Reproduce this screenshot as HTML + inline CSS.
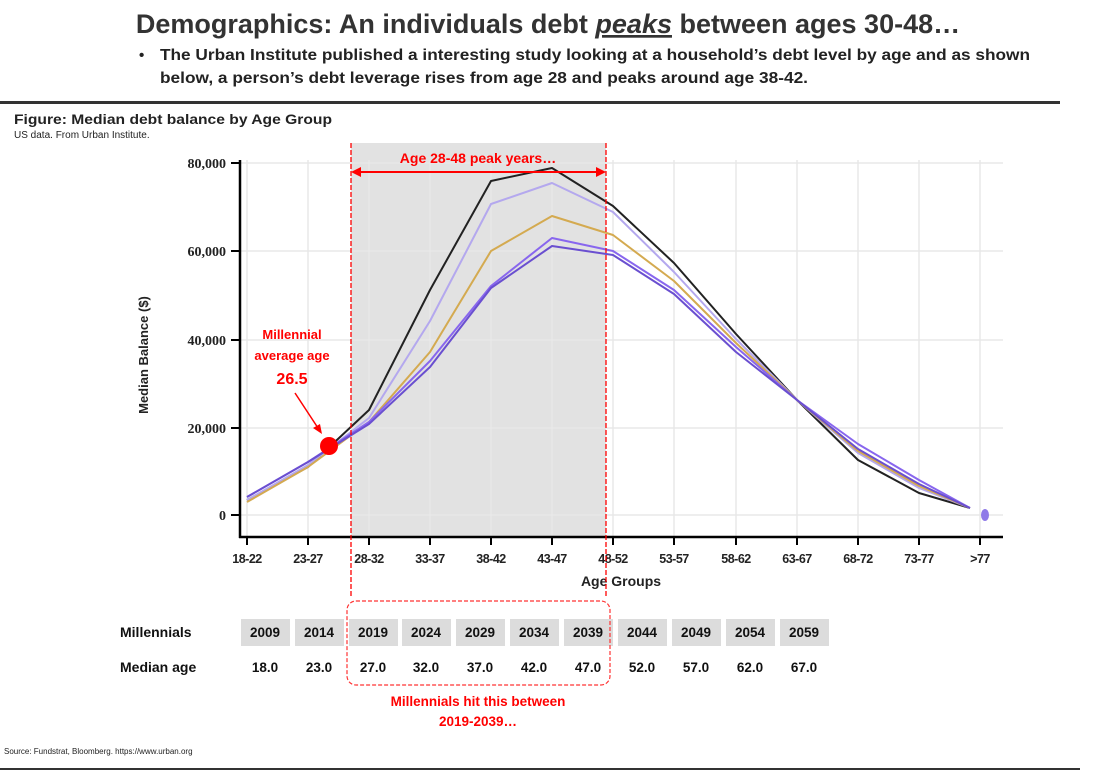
<!DOCTYPE html>
<html><head><meta charset="utf-8"><style>
html,body{margin:0;padding:0;background:#fff;}
svg{display:block;font-family:"Liberation Sans",Arial,sans-serif;}
</style></head><body>
<svg width="1096" height="772" viewBox="0 0 1096 772" xmlns="http://www.w3.org/2000/svg">
<rect width="1096" height="772" fill="#fff"/>
<text x="548" y="33" text-anchor="middle" font-size="27" font-weight="bold" fill="#333">Demographics: An individuals debt <tspan font-style="italic" text-decoration="underline">peaks</tspan> between ages 30-48…</text>
<text x="139" y="60" font-size="15" font-weight="bold" fill="#222">•</text>
<text x="160" y="60" font-size="15.5" font-weight="bold" fill="#222" textLength="870" lengthAdjust="spacingAndGlyphs">The Urban Institute published a interesting study looking at a household’s debt level by age and as shown</text>
<text x="160" y="83" font-size="15.5" font-weight="bold" fill="#222" textLength="648" lengthAdjust="spacingAndGlyphs">below, a person’s debt leverage rises from age 28 and peaks around age 38-42.</text>
<rect x="0" y="101" width="1060" height="3" fill="#333"/>
<text x="14" y="124" font-size="14" font-weight="bold" fill="#222" textLength="318" lengthAdjust="spacingAndGlyphs">Figure: Median debt balance by Age Group</text>
<text x="14" y="138" font-size="10" fill="#222">US data.  From Urban Institute.</text>
<rect x="351" y="143" width="255" height="394" fill="#e2e2e2"/>
<g stroke="#e8e8e8" stroke-width="1.5">
<line x1="240" y1="163" x2="1003" y2="163"/><line x1="240" y1="251" x2="1003" y2="251"/>
<line x1="240" y1="340" x2="1003" y2="340"/><line x1="240" y1="428" x2="1003" y2="428"/>
<line x1="240" y1="515" x2="1003" y2="515"/>
<line x1="247" y1="160" x2="247" y2="537"/><line x1="308" y1="160" x2="308" y2="537"/><line x1="369" y1="160" x2="369" y2="537"/><line x1="430" y1="160" x2="430" y2="537"/><line x1="491" y1="160" x2="491" y2="537"/><line x1="552" y1="160" x2="552" y2="537"/><line x1="613" y1="160" x2="613" y2="537"/><line x1="674" y1="160" x2="674" y2="537"/><line x1="736" y1="160" x2="736" y2="537"/><line x1="797" y1="160" x2="797" y2="537"/><line x1="858" y1="160" x2="858" y2="537"/><line x1="919" y1="160" x2="919" y2="537"/><line x1="980" y1="160" x2="980" y2="537"/>
</g>
<g stroke="#000" stroke-width="2.5">
<line x1="240" y1="160" x2="240" y2="538"/><line x1="239" y1="537" x2="1003" y2="537"/>
</g>
<g stroke="#000" stroke-width="2">
<line x1="231" y1="163" x2="240" y2="163"/><line x1="231" y1="251" x2="240" y2="251"/><line x1="231" y1="340" x2="240" y2="340"/><line x1="231" y1="428" x2="240" y2="428"/><line x1="231" y1="515" x2="240" y2="515"/>
<line x1="247" y1="537" x2="247" y2="545"/><line x1="308" y1="537" x2="308" y2="545"/><line x1="369" y1="537" x2="369" y2="545"/><line x1="430" y1="537" x2="430" y2="545"/><line x1="491" y1="537" x2="491" y2="545"/><line x1="552" y1="537" x2="552" y2="545"/><line x1="613" y1="537" x2="613" y2="545"/><line x1="674" y1="537" x2="674" y2="545"/><line x1="736" y1="537" x2="736" y2="545"/><line x1="797" y1="537" x2="797" y2="545"/><line x1="858" y1="537" x2="858" y2="545"/><line x1="919" y1="537" x2="919" y2="545"/><line x1="980" y1="537" x2="980" y2="545"/>
</g>
<g font-family="Liberation Serif,serif" font-weight="bold" font-size="14" fill="#222" text-anchor="end">
<text x="226" y="168">80,000</text><text x="226" y="256">60,000</text><text x="226" y="345">40,000</text><text x="226" y="433">20,000</text><text x="226" y="520">0</text>
</g>
<g font-weight="bold" font-size="12.5" fill="#222" text-anchor="middle" letter-spacing="-0.5">
<text x="247" y="563">18-22</text><text x="308" y="563">23-27</text><text x="369" y="563">28-32</text><text x="430" y="563">33-37</text><text x="491" y="563">38-42</text><text x="552" y="563">43-47</text><text x="613" y="563">48-52</text><text x="674" y="563">53-57</text><text x="736" y="563">58-62</text><text x="797" y="563">63-67</text><text x="858" y="563">68-72</text><text x="919" y="563">73-77</text><text x="980" y="563">&gt;77</text>
</g>
<text x="621" y="586" text-anchor="middle" font-weight="bold" font-size="14" fill="#222">Age Groups</text>
<text transform="translate(148,355) rotate(-90)" text-anchor="middle" font-weight="bold" font-size="13" fill="#222">Median Balance ($)</text>
<g fill="none" stroke-width="2" stroke-linejoin="round">
<polyline stroke="#222" points="247,500 308,467 369,410 430,290 491,181 552,168 613,206 674,263 736,334 797,400 858,460 919,493 970,508"/>
<polyline stroke="#b4a8ee" points="247,500 308,465 369,418 430,321 491,204 552,183 613,212 674,272 736,339 797,400 858,453 919,488 970,508"/>
<polyline stroke="#d4aa50" points="247,502 308,467 369,422 430,352 491,251 552,216 613,235 674,281 736,343 797,400 858,451 919,486 970,508"/>
<polyline stroke="#8866ee" points="247,497 308,462 369,422 430,361 491,286 552,238 613,251 674,290 736,347 797,400 858,444 919,480 970,508"/>
<polyline stroke="#6a4fd0" points="247,497 308,462 369,424 430,367 491,288 552,246 613,255 674,294 736,352 797,400 858,449 919,484 970,508"/>
</g>
<ellipse cx="985" cy="515" rx="4" ry="6" fill="#8f7ae8"/>
<g stroke="#f00" stroke-width="1.3" stroke-dasharray="5,2">
<line x1="351" y1="143" x2="351" y2="598"/><line x1="606" y1="143" x2="606" y2="598"/>
</g>
<line x1="358" y1="172" x2="599" y2="172" stroke="#f00" stroke-width="2"/>
<polygon points="351,172 361,167 361,177" fill="#f00"/><polygon points="606,172 596,167 596,177" fill="#f00"/>
<text x="478" y="163" text-anchor="middle" font-size="14" font-weight="bold" fill="#f00">Age 28-48 peak years…</text>
<text x="292" y="339" text-anchor="middle" font-size="13" font-weight="bold" fill="#f00">Millennial</text>
<text x="292" y="360" text-anchor="middle" font-size="13" font-weight="bold" fill="#f00">average age</text>
<text x="292" y="384" text-anchor="middle" font-size="16" font-weight="bold" fill="#f00">26.5</text>
<line x1="295" y1="393" x2="318" y2="428" stroke="#f00" stroke-width="1.5"/>
<polygon points="322,434 313,428 320,424" fill="#f00"/>
<circle cx="329" cy="446" r="9" fill="#f00"/>
<text x="120" y="637" font-size="14" font-weight="bold" fill="#111">Millennials</text>
<text x="120" y="672" font-size="14" font-weight="bold" fill="#111">Median age</text>
<g fill="#dcdcdc">
<rect x="241" y="619" width="49" height="27"/><rect x="295" y="619" width="49" height="27"/><rect x="349" y="619" width="49" height="27"/><rect x="402" y="619" width="49" height="27"/><rect x="456" y="619" width="49" height="27"/><rect x="510" y="619" width="49" height="27"/><rect x="564" y="619" width="49" height="27"/><rect x="618" y="619" width="49" height="27"/><rect x="672" y="619" width="49" height="27"/><rect x="726" y="619" width="49" height="27"/><rect x="780" y="619" width="49" height="27"/>
</g>
<g font-size="13.5" font-weight="bold" fill="#111" text-anchor="middle">
<text x="265" y="637">2009</text><text x="319" y="637">2014</text><text x="373" y="637">2019</text><text x="426" y="637">2024</text><text x="480" y="637">2029</text><text x="534" y="637">2034</text><text x="588" y="637">2039</text><text x="642" y="637">2044</text><text x="696" y="637">2049</text><text x="750" y="637">2054</text><text x="804" y="637">2059</text>
<text x="265" y="672">18.0</text><text x="319" y="672">23.0</text><text x="373" y="672">27.0</text><text x="426" y="672">32.0</text><text x="480" y="672">37.0</text><text x="534" y="672">42.0</text><text x="588" y="672">47.0</text><text x="642" y="672">52.0</text><text x="696" y="672">57.0</text><text x="750" y="672">62.0</text><text x="804" y="672">67.0</text>
</g>
<rect x="347" y="601" width="263" height="84" rx="9" fill="none" stroke="#f33" stroke-width="1.2" stroke-dasharray="4,2"/>
<text x="478" y="706" text-anchor="middle" font-size="13.5" font-weight="bold" fill="#f00">Millennials hit this between</text>
<text x="478" y="726" text-anchor="middle" font-size="13.5" font-weight="bold" fill="#f00">2019-2039…</text>
<text x="4" y="754" font-size="8" fill="#222">Source: Fundstrat, Bloomberg. https://www.urban.org</text>
<rect x="0" y="768" width="1080" height="2" fill="#333"/>
</svg>
</body></html>
